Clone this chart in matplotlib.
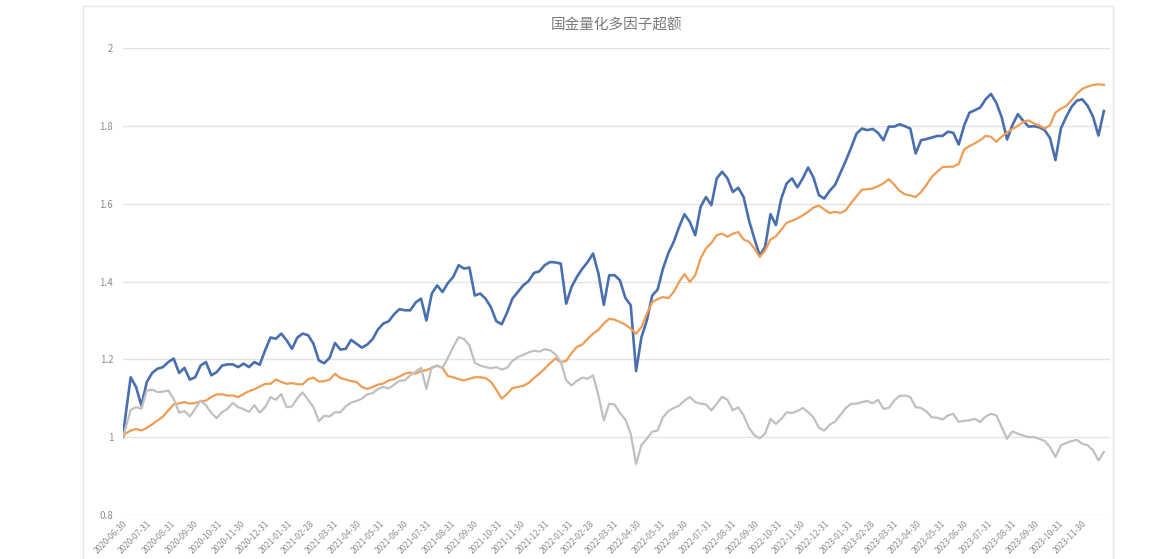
import matplotlib
matplotlib.use('Agg')
import matplotlib.pyplot as plt
import pandas as pd
from matplotlib.patches import Rectangle

plt.rcParams['font.family'] = ['Noto Sans CJK SC', 'DejaVu Sans']

title = '国金量化多因子超额'

dates = pd.to_datetime(['2020-06-30']).append(
    pd.date_range('2020-07-03', periods=183, freq='7D'))

fund = [1.000,
    1.051, 1.154, 1.129, 1.081, 1.142, 1.165, 1.176, 1.180, 1.193, 1.202,
    1.165, 1.178, 1.148, 1.154, 1.184, 1.193, 1.159, 1.167, 1.184, 1.187,
    1.187, 1.180, 1.189, 1.180, 1.193, 1.186, 1.223, 1.256, 1.253, 1.266,
    1.249, 1.227, 1.256, 1.266, 1.262, 1.240, 1.197, 1.190, 1.204, 1.242,
    1.225, 1.227, 1.250, 1.240, 1.230, 1.238, 1.252, 1.277, 1.292, 1.298,
    1.316, 1.329, 1.326, 1.326, 1.346, 1.356, 1.300, 1.369, 1.390, 1.373,
    1.396, 1.412, 1.442, 1.433, 1.436, 1.364, 1.369, 1.356, 1.334, 1.298,
    1.290, 1.320, 1.356, 1.373, 1.390, 1.401, 1.422, 1.426, 1.442, 1.450,
    1.449, 1.446, 1.343, 1.386, 1.412, 1.433, 1.450, 1.472, 1.420, 1.340,
    1.416, 1.416, 1.403, 1.358, 1.339, 1.170, 1.257, 1.300, 1.364, 1.379,
    1.433, 1.473, 1.502, 1.540, 1.573, 1.553, 1.519, 1.592, 1.617, 1.596,
    1.665, 1.682, 1.665, 1.630, 1.641, 1.617, 1.557, 1.510, 1.467, 1.489,
    1.573, 1.545, 1.613, 1.652, 1.665, 1.642, 1.665, 1.693, 1.667, 1.622,
    1.613, 1.633, 1.648, 1.679, 1.710, 1.744, 1.780, 1.793, 1.789, 1.792,
    1.782, 1.763, 1.798, 1.798, 1.804, 1.799, 1.793, 1.729, 1.763, 1.766,
    1.770, 1.774, 1.774, 1.785, 1.782, 1.752, 1.800, 1.834, 1.840, 1.847,
    1.868, 1.882, 1.859, 1.822, 1.765, 1.802, 1.830, 1.813, 1.798, 1.799,
    1.796, 1.789, 1.768, 1.712, 1.793, 1.823, 1.849, 1.865, 1.868, 1.851,
    1.823, 1.775, 1.838]

index = [1.000,
    1.009, 1.017, 1.021, 1.017, 1.024, 1.033, 1.043, 1.053, 1.069, 1.084,
    1.087, 1.090, 1.086, 1.088, 1.092, 1.094, 1.103, 1.110, 1.110, 1.107,
    1.107, 1.103, 1.111, 1.118, 1.123, 1.130, 1.137, 1.137, 1.148, 1.142,
    1.137, 1.139, 1.136, 1.136, 1.149, 1.153, 1.143, 1.144, 1.148, 1.163,
    1.152, 1.148, 1.144, 1.142, 1.129, 1.124, 1.129, 1.135, 1.138, 1.146,
    1.149, 1.156, 1.163, 1.166, 1.163, 1.170, 1.172, 1.178, 1.184, 1.178,
    1.157, 1.154, 1.149, 1.146, 1.150, 1.154, 1.154, 1.152, 1.142, 1.122,
    1.099, 1.111, 1.126, 1.129, 1.132, 1.139, 1.152, 1.163, 1.176, 1.190,
    1.202, 1.193, 1.196, 1.216, 1.232, 1.238, 1.253, 1.266, 1.276, 1.292,
    1.304, 1.302, 1.296, 1.289, 1.279, 1.266, 1.283, 1.317, 1.347, 1.355,
    1.360, 1.357, 1.373, 1.399, 1.419, 1.399, 1.416, 1.459, 1.485, 1.499,
    1.519, 1.523, 1.515, 1.523, 1.527, 1.508, 1.502, 1.485, 1.463, 1.480,
    1.508, 1.516, 1.533, 1.551, 1.556, 1.562, 1.570, 1.579, 1.590, 1.595,
    1.585, 1.576, 1.579, 1.576, 1.583, 1.602, 1.619, 1.636, 1.637, 1.639,
    1.645, 1.652, 1.663, 1.649, 1.633, 1.624, 1.621, 1.617, 1.630, 1.648,
    1.669, 1.682, 1.694, 1.695, 1.695, 1.702, 1.739, 1.748, 1.755, 1.763,
    1.774, 1.772, 1.759, 1.772, 1.783, 1.792, 1.800, 1.810, 1.814, 1.806,
    1.801, 1.793, 1.802, 1.834, 1.844, 1.851, 1.866, 1.883, 1.895, 1.901,
    1.905, 1.907, 1.905]

excess = [1.000,
    1.021, 1.070, 1.077, 1.073, 1.120, 1.122, 1.116, 1.117, 1.120, 1.098,
    1.063, 1.067, 1.053, 1.073, 1.094, 1.082, 1.062, 1.049, 1.064, 1.073,
    1.088, 1.077, 1.072, 1.065, 1.082, 1.063, 1.077, 1.103, 1.096, 1.111,
    1.077, 1.079, 1.100, 1.115, 1.096, 1.077, 1.041, 1.055, 1.053, 1.064,
    1.064, 1.079, 1.089, 1.093, 1.099, 1.110, 1.113, 1.124, 1.129, 1.125,
    1.135, 1.145, 1.146, 1.159, 1.168, 1.178, 1.124, 1.180, 1.183, 1.178,
    1.204, 1.232, 1.257, 1.252, 1.236, 1.191, 1.184, 1.180, 1.177, 1.180,
    1.174, 1.178, 1.196, 1.206, 1.211, 1.218, 1.222, 1.220, 1.226, 1.223,
    1.213, 1.193, 1.146, 1.133, 1.145, 1.153, 1.150, 1.159, 1.107, 1.043,
    1.086, 1.084, 1.062, 1.045, 1.009, 0.931, 0.980, 0.996, 1.014, 1.017,
    1.051, 1.067, 1.075, 1.081, 1.094, 1.103, 1.090, 1.086, 1.084, 1.069,
    1.086, 1.104, 1.096, 1.069, 1.077, 1.056, 1.024, 1.005, 0.997, 1.009,
    1.047, 1.034, 1.047, 1.064, 1.062, 1.067, 1.075, 1.064, 1.051, 1.024,
    1.017, 1.032, 1.040, 1.057, 1.075, 1.086, 1.086, 1.090, 1.093, 1.087,
    1.096, 1.073, 1.075, 1.094, 1.106, 1.107, 1.103, 1.077, 1.075, 1.066,
    1.051, 1.050, 1.045, 1.056, 1.060, 1.039, 1.042, 1.043, 1.047, 1.039,
    1.053, 1.060, 1.056, 1.026, 0.996, 1.015, 1.009, 1.004, 1.000, 1.000,
    0.996, 0.990, 0.974, 0.949, 0.979, 0.985, 0.990, 0.993, 0.983, 0.979,
    0.966, 0.940, 0.962]

y_ticks = [0.8, 1.0, 1.2, 1.4, 1.6, 1.8, 2.0]
y_labels = ['0.8', '1', '1.2', '1.4', '1.6', '1.8', '2']
tick_dates = pd.date_range('2020-06-30', '2023-11-30', freq=pd.offsets.MonthEnd())
x_labels = [d.strftime('%Y-%m-%d') for d in tick_dates]


fig = plt.figure(figsize=(11.62, 5.59), dpi=100)
ax = fig.add_axes([123 / 1162, 44 / 559, 987 / 1162, 467 / 559])

ax.plot(dates, fund, color='#4a6fae', lw=1.9)
ax.plot(dates, index, color='#ef9d55', lw=1.6)
ax.plot(dates, excess, color='#c0c0c0', lw=1.6)

ax.set_ylim(0.8, 2.0)
ax.set_xlim(pd.Timestamp('2020-06-30'), pd.Timestamp('2024-01-06'))
ax.set_yticks(y_ticks)
ax.set_yticklabels(y_labels, fontsize=7, color='#8c8c8c')
ax.set_xticks(tick_dates)
ax.set_xticklabels(x_labels, rotation=45, ha='right', rotation_mode='anchor',
                   fontsize=6, color='#8c8c8c')
ax.tick_params(axis='y', length=0, pad=7)
ax.tick_params(axis='x', length=0, pad=3)
ax.grid(axis='y', color='#e4e4e4', lw=1)
ax.set_axisbelow(True)
for s in ax.spines.values():
    s.set_visible(False)

fig.text(0.5305, 1 - 25 / 559, title, ha='center', va='center',
         fontsize=10.5, color='#7a7a7a')

# light chart-area border
fig.patches.append(Rectangle((83 / 1162, -0.02), 1030 / 1162, 1.01,
                             transform=fig.transFigure, fill=False,
                             ec='#e6e6e6', lw=1))

fig.savefig('out.png', dpi=100)
